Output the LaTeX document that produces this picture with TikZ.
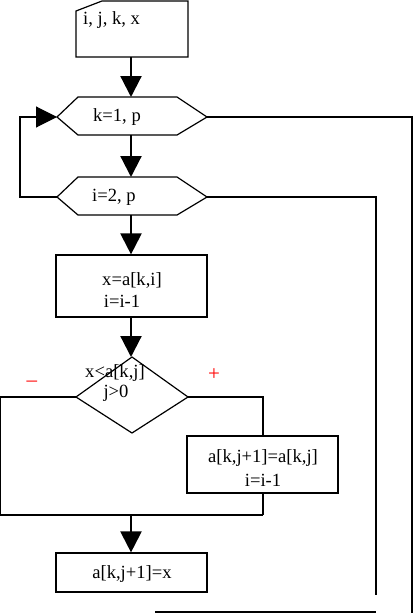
\documentclass[tikz,border=0pt]{standalone}
\usepackage{fontspec}
\setmainfont{Liberation Serif}
\usetikzlibrary{arrows.meta}
\begin{document}
\begin{tikzpicture}[x=1pt,y=-1pt,
  shape line/.style={draw=black, line width=1.2pt},
  thin line/.style={draw=black, line width=1.1pt},
  flow arrow/.style={draw=black, line width=2.2pt, -{Triangle[width=21pt,length=21pt]}},
  loop arrow/.style={draw=black, line width=1.1pt, -{Triangle[width=21pt,length=21pt]}},
  label text/.style={inner sep=0pt, font=\fontsize{18.6}{20}\selectfont},
  sign text/.style={inner sep=0pt, text=red, font=\fontsize{21}{22}\selectfont},
  box/.style={shape line, rectangle, inner sep=0pt}
]
\useasboundingbox (0,0) rectangle (414,613);

% input (manual input shape)
\coordinate (inA) at (76,11);
\coordinate (inB) at (102,1);
\coordinate (inC) at (188,1);
\coordinate (inD) at (188,57);
\coordinate (inE) at (76,57);
\draw[shape line] (inA) -- (inB) -- (inC) -- (inD) -- (inE) -- cycle;
\node[label text, anchor=west] (intext) at (83,20) {i, j, k, x};
\coordinate (inBot) at (131,57);

% hexagon k
\coordinate (hkL) at (57,117);
\coordinate (hkR) at (207,117);
\coordinate (hkT) at (131,97);
\coordinate (hkB) at (131,135);
\draw[shape line] (hkL) -- (78,97) -- (177,97) -- (hkR) -- (177,135) -- (78,135) -- cycle;
\node[label text] (hktext) at (117,117) {k=1, p};

% hexagon i
\coordinate (hiL) at (57,197);
\coordinate (hiR) at (207,197);
\coordinate (hiT) at (131,177);
\coordinate (hiB) at (131,215);
\draw[shape line] (hiL) -- (78,177) -- (177,177) -- (hiR) -- (177,215) -- (78,215) -- cycle;
\node[label text] (hitext) at (114,197) {i=2, p};

% box 1
\node[box, minimum width=151pt, minimum height=62pt] (b1) at (131.5,286) {};
\node[label text] (b1a) at (132,280) {x=a[k,i]};
\node[label text] (b1b) at (122,301) {i=i-1};

% diamond
\coordinate (dT) at (132,357);
\coordinate (dR) at (188,397);
\coordinate (dB) at (132,433);
\coordinate (dL) at (76,397);
\draw[shape line] (dT) -- (dR) -- (dB) -- (dL) -- cycle;
\node[label text] (dta) at (115,373) {x<a[k,j]};
\node[label text] (dtb) at (116,393) {j>0};
\node[sign text] (minus) at (32,384) {–};
\node[sign text] (plus) at (214,375) {+};

% right box
\node[box, minimum width=151pt, minimum height=57pt] (b2) at (262.5,464.5) {};
\node[label text] (b2a) at (263,458) {a[k,j+1]=a[k,j]};
\node[label text] (b2b) at (263,480) {i=i-1};

% bottom box
\node[box, minimum width=151pt, minimum height=39pt] (b3) at (131.5,572.5) {};
\node[label text] (b3a) at (132,574) {a[k,j+1]=x};

% helper coordinates
\coordinate (joinL) at (0.6,515);
\coordinate (joinR) at (263,515);
\coordinate (joinM) at (131,515);
\coordinate (loopTop) at (20,117);
\coordinate (loopBot) at (20,197);
\coordinate (outerTop) at (412,117);
\coordinate (outerBot) at (412,613);
\coordinate (innerTop) at (376,197);
\coordinate (innerBot) at (376,595);
\coordinate (endL) at (155,612);
\coordinate (endR) at (376,612);

% arrows
\draw[flow arrow] (inBot) -- (hkT);
\draw[flow arrow] (hkB) -- (hiT);
\draw[flow arrow] (hiB) -- (b1.north -| hiB);
\draw[flow arrow] (b1.south -| hiB) -- (dT -| hiB);
\draw[flow arrow] (joinM) -- (b3.north -| joinM);
\draw[loop arrow] (hiL) -- (loopBot) -- (loopTop) -- (hkL);

% lines
\draw[thin line] (hkR) -- (outerTop) -- (outerBot);
\draw[thin line] (hiR) -- (innerTop) -- (innerBot);
\draw[thin line] (endL) -- (endR);
\draw[thin line] (dL) -- (0.6,397) -- (joinL) -- (joinR);
\draw[thin line] (dR) -- (263,397) -- (b2.north -| joinR);
\draw[thin line] (b2.south -| joinR) -- (joinR);
\end{tikzpicture}
\end{document}
